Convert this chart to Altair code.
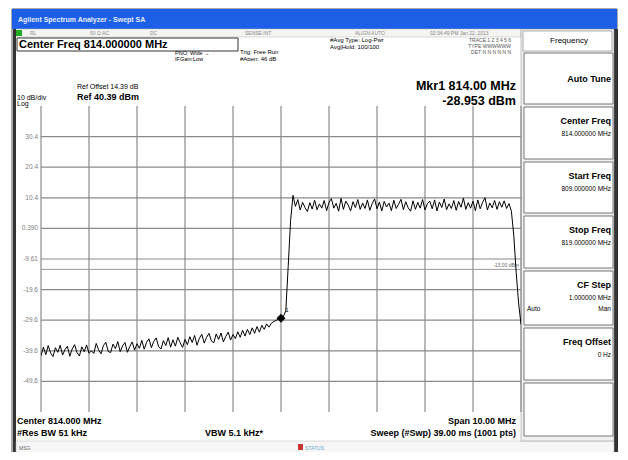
import altair as alt
import pandas as pd

# ---------------- data ----------------
start_mhz = 809.0
step_mhz = 0.05
level_dbm = [
    # 809.00 - 810.00
    -41.2, -38.4, -40.9, -37.9, -40.3, -41.5, -38.6, -40.1, -37.8, -41.0, -39.2,
    -38.1, -41.4, -39.0, -37.6, -40.2, -41.3, -38.3, -39.9, -37.7, -40.4,
    # 810.05 - 811.00
    -39.6, -40.5, -37.2, -39.3, -40.6, -37.9, -36.8, -39.8, -40.2, -37.4,
    -38.9, -36.6, -39.9, -38.0, -36.9, -40.1, -38.2, -36.7, -39.4, -37.3,
    # 811.05 - 812.00
    -38.8, -36.2, -39.1, -36.8, -35.7, -38.6, -36.5, -35.4, -38.3, -39.0,
    -36.3, -37.9, -35.3, -38.4, -36.0, -38.1, -35.2, -37.0, -38.5, -35.9,
    # 812.05 - 813.00
    -37.6, -35.0, -36.9, -34.6, -37.8, -35.5, -34.2, -37.1, -35.2, -33.9,
    -36.4, -37.0, -34.1, -35.9, -33.8, -36.7, -34.9, -33.5, -36.1, -34.3,
    # 813.05 - 813.75
    -35.6, -33.4, -35.2, -32.9, -34.8, -32.6, -34.3, -32.1, -33.9, -31.7,
    -33.5, -31.3, -32.6, -30.8, -31.9,
    # 813.80 - 814.20
    -30.6, -30.0, -29.7, -29.2, -28.95, -28.4, -26.5, -12.0, 3.0,
    # 814.25 - 818.75 (carrier)
    11.2, 7.6, 9.8, 6.4, 8.9, 7.2, 5.9, 8.8, 6.7, 9.6,
    6.5, 8.4, 7.0, 9.5, 6.2, 8.9, 10.1, 7.0, 8.6, 6.0,
    10.2, 6.6, 9.3, 8.0, 6.1, 9.1, 7.2, 9.8, 6.6, 8.7,
    6.9, 9.7, 6.3, 8.5, 10.0, 6.8, 9.0, 6.1, 9.2, 7.4,
    8.6, 6.2, 9.6, 6.9, 8.3, 9.9, 6.5, 9.1, 7.1, 6.0,
    9.4, 6.6, 8.9, 7.0, 9.8, 6.4, 8.5, 9.3, 6.8, 9.7,
    6.1, 9.0, 7.2, 10.0, 6.5, 8.4, 6.9, 9.5, 6.3, 9.2,
    7.3, 10.3, 6.6, 8.8, 7.0, 9.3, 6.2, 9.7, 6.8, 8.9,
    10.4, 6.4, 8.7, 7.1, 9.5, 6.6, 9.1, 7.3, 9.4, 6.9,
    8.5,
    # 818.80 - 819.00
    6.0, -2.0, -14.0, -24.0, -31.0,
]
freq_mhz = [round(start_mhz + step_mhz * i, 2) for i in range(len(level_dbm))]

marker_freq = [814.00]
marker_level = [-28.953]
marker_name = ["1"]

y_tick_values = [30.39, 20.39, 10.39, 0.39, -9.61, -19.61, -29.61, -39.61, -49.61]
y_tick_labels = ["30.4", "20.4", "10.4", "0.390", "-9.61", "-19.6", "-29.6", "-39.6", "-49.6"]
x_grid = [809, 810, 811, 812, 813, 814, 815, 816, 817, 818, 819]
display_line = [-13.0]
display_line_label = ["-13.00 dBm"]

# ---------------- layout helpers ----------------
OX, OY = 41, 106          # plot origin in page px
W, H = 480, 306
X0, X1 = 809.0, 819.0
Y0, Y1 = -59.61, 40.39
FONT = "Liberation Sans"

xs = alt.Scale(domain=[X0, X1], nice=False, zero=False)
ys = alt.Scale(domain=[Y0, Y1], nice=False, zero=False)


def fx(px):
    return X0 + (px - OX) * (X1 - X0) / W


def fy(py):
    return Y1 - (py - OY) * (Y1 - Y0) / H


rects = []


def rect(x1, y1, x2, y2, fill="white", stroke="transparent", sw=0):
    rects.append(dict(x=fx(x1), x2=fx(x2), y=fy(y1), y2=fy(y2), fill=fill, stroke=stroke, sw=sw))


texts = {}


def txt(t, x, y, size=8, weight="normal", align="left", color="black"):
    texts.setdefault((weight, align), []).append(dict(x=fx(x), y=fy(y), t=t, size=size, color=color))


# screen frame
rect(12, 9, 617, 456, fill="white", stroke="#555", sw=1)
rect(12, 9, 617, 29, fill="#1d5fe6")
txt("Agilent Spectrum Analyzer - Swept SA", 18, 22, 7, "bold", color="#e8efff")
rect(16, 29, 521, 37, fill="#f4f4f0", stroke="#bbbbbb", sw=0.5)
rect(16, 30, 22, 36, fill="#22aa22")
for t, x in [("RL", 30), ("50 \u03a9  AC", 90), ("DC", 150), ("SENSE:INT", 245),
             ("ALIGN AUTO", 355), ("02:34:49 PM Jan 22, 2013", 430)]:
    txt(t, x, 35, 5, color="#888888")
rect(13, 29, 16, 456, fill="#333333")
rect(614, 29, 618, 456, fill="#333333")

# header texts
rect(17, 38, 238, 51, fill="white", stroke="#333333", sw=1)
txt("Center Freq 814.000000 MHz", 19, 48, 11, "bold")
txt("PNO: Wide \u2192", 175, 55, 5.5)
txt("IFGain:Low", 175, 61, 5.5)
txt("Trig: Free Run", 240, 54, 6)
txt("#Atten: 46 dB", 240, 61, 6)
txt("#Avg Type: Log-Pwr", 330, 42, 6)
txt("Avg|Hold: 100/100", 330, 49, 6)
txt("TRACE 1 2 3 4 5 6", 511, 42, 5, align="right", color="#555555")
txt("TYPE WWWWWW", 511, 48, 5, align="right", color="#555555")
txt("DET N N N N N N", 511, 54, 5, align="right", color="#555555")
txt("Ref Offset 14.39 dB", 77, 89, 7)
txt("10 dB/div", 17, 100, 7)
txt("Ref 40.39 dBm", 77, 100, 9, "bold")
txt("Log", 17, 106, 7)
txt("Mkr1 814.00 MHz", 516, 90, 12.5, "bold", "right")
txt("-28.953 dBm", 516, 105, 12.5, "bold", "right")

# footer texts
txt("Center 814.000 MHz", 17, 424, 9, "bold")
txt("#Res BW 51 kHz", 17, 436, 9, "bold")
txt("VBW 5.1 kHz*", 205, 436, 9, "bold")
txt("Span 10.00 MHz", 516, 424, 9, "bold", "right")
txt("Sweep (#Swp)  39.00 ms (1001 pts)", 516, 436, 9, "bold", "right")
rect(16, 441, 614, 453, fill="#f6f6f6", stroke="#bbbbbb", sw=0.5)
txt("MSG", 19, 450, 5, color="#666666")
txt("STATUS", 305, 450, 5, color="#66aacc")
rect(298, 444, 303, 450, fill="#cc3333")

# softkey panel
rect(521, 29, 614, 441, fill="#f0f0f0", stroke="#888888", sw=0.5)
rect(523, 31, 612, 51, fill="white", stroke="#999999", sw=0.8)
txt("Frequency", 569, 43, 8, align="center")
keys = [
    (53, 104, "Auto Tune", None),
    (107, 159, "Center Freq", "814.000000 MHz"),
    (162, 213, "Start Freq", "809.000000 MHz"),
    (216, 268, "Stop Freq", "819.000000 MHz"),
    (271, 325, "CF Step", "1.000000 MHz"),
    (328, 380, "Freq Offset", "0 Hz"),
    (383, 436, "", None),
]
for y1, y2, title, sub in keys:
    rect(524, y1, 613, y2, fill="white", stroke="#777777", sw=1)
    if title:
        ty = (y1 + y2) / 2 + 3 if sub is None else y1 + 17
        txt(title, 611, ty, 9, "bold", "right")
    if sub:
        txt(sub, 611, y1 + 29, 6.5, align="right")
txt("Auto", 527, 311, 6.5)
txt("Man", 611, 311, 6.5, align="right")

# ---------------- chart ----------------
XA = dict(scale=xs, axis=None)
YA = dict(scale=ys, axis=None)

rect_layer = alt.Chart(pd.DataFrame(rects)).mark_rect(clip=False).encode(
    x=alt.X("x:Q", **XA), x2="x2:Q",
    y=alt.Y("y:Q", **YA), y2="y2:Q",
    fill=alt.Fill("fill:N", scale=None),
    stroke=alt.Stroke("stroke:N", scale=None),
    strokeWidth=alt.StrokeWidth("sw:Q", scale=None),
)

text_layers = []
for (weight, align), rows in texts.items():
    text_layers.append(
        alt.Chart(pd.DataFrame(rows)).mark_text(
            font=FONT, fontWeight=weight, align=align, baseline="alphabetic", clip=False
        ).encode(
            x=alt.X("x:Q", **XA), y=alt.Y("y:Q", **YA), text="t:N",
            size=alt.Size("size:Q", scale=None),
            color=alt.Color("color:N", scale=None),
        )
    )

trace = pd.DataFrame({"f": freq_mhz, "p": level_dbm})
grid_v = alt.Chart(pd.DataFrame({"f": x_grid})).mark_rule(color="#8a8a8a", strokeWidth=1.2).encode(
    x=alt.X("f:Q", **XA))
grid_h = alt.Chart(pd.DataFrame({"p": y_tick_values})).mark_rule(color="#8a8a8a", strokeWidth=1.2).encode(
    y=alt.Y("p:Q", **YA))
dline = alt.Chart(pd.DataFrame({"p": display_line})).mark_rule(color="#9a9a9a", strokeWidth=1).encode(
    y=alt.Y("p:Q", **YA))
dlabel = alt.Chart(pd.DataFrame({"p": display_line, "t": display_line_label})).mark_text(
    font=FONT, fontSize=5, align="right", baseline="bottom", dy=-1, color="#666666").encode(
    x=alt.value(W - 2), y=alt.Y("p:Q", **YA), text="t:N")
ticks = alt.Chart(pd.DataFrame({"p": y_tick_values, "t": y_tick_labels})).mark_text(
    font=FONT, fontSize=6.5, align="right", baseline="middle", color="#808080", clip=False).encode(
    x=alt.value(-3), y=alt.Y("p:Q", **YA), text="t:N")
line = alt.Chart(trace).mark_line(color="black", strokeWidth=1, clip=True).encode(
    x=alt.X("f:Q", **XA), y=alt.Y("p:Q", **YA))
mk = pd.DataFrame({"f": marker_freq, "p": marker_level, "t": marker_name})
marker = alt.Chart(mk).mark_point(shape="diamond", filled=True, color="black", size=80, opacity=1).encode(
    x=alt.X("f:Q", **XA), y=alt.Y("p:Q", **YA))
mlabel = alt.Chart(mk).mark_text(font=FONT, fontSize=6, dx=6, dy=-8, color="black").encode(
    x=alt.X("f:Q", **XA), y=alt.Y("p:Q", **YA), text="t:N")

chart = alt.layer(
    rect_layer, *text_layers, grid_v, grid_h, dline, dlabel, ticks, line, marker, mlabel
).properties(
    width=W, height=H,
    autosize=alt.AutoSizeParams(type="none"),
    padding={"left": OX - 8, "top": OY - 8, "right": 612 - (OX - 8) - W, "bottom": 444 - (OY - 8) - H},
).configure_view(stroke="black", strokeWidth=2)

chart.save("out.html", embed_options={"renderer": "svg", "actions": False})
